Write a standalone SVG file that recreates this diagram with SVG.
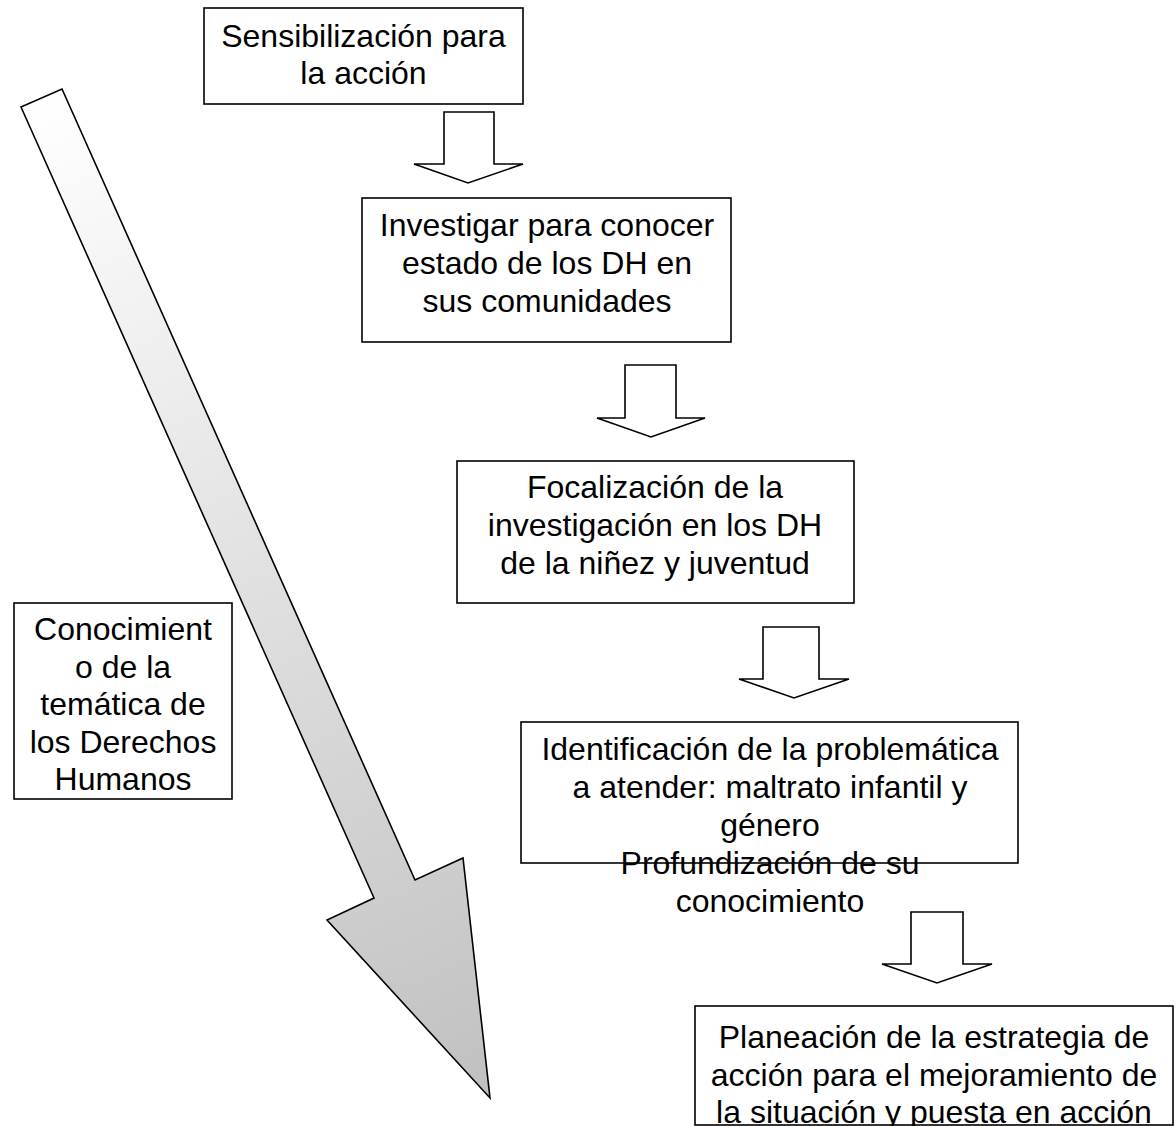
<svg xmlns="http://www.w3.org/2000/svg" width="1176" height="1126" viewBox="0 0 1176 1126">
<defs>
<style>
.box{fill:#ffffff;stroke:#000000;stroke-width:1.6}
.blk{fill:#ffffff;stroke:#000000;stroke-width:1.6;stroke-linejoin:miter}
.t{font-family:"Liberation Sans",Arial,sans-serif;font-size:32px;fill:#000000;text-anchor:middle}
</style>
<linearGradient id="grad" gradientUnits="userSpaceOnUse" x1="41" y1="98" x2="490" y2="1098">
<stop offset="0" stop-color="#ffffff"/>
<stop offset="1" stop-color="#c0c0c0"/>
</linearGradient>
</defs>
<rect x="0" y="0" width="1176" height="1126" fill="#ffffff"/>
<g id="bigArrow">
<path d="M21,107 L62,89 L415,880 L463,858 L490,1098 L327,920 L374,898 Z" fill="url(#grad)" stroke="#000000" stroke-width="1.6" stroke-linejoin="miter"/>
</g>
<g id="connectors">
<path class="blk" d="M444,112 H494 V164 H523 L468,183 L414,164 H444 Z"/>
<path class="blk" d="M625,365 H676 V418 H705 L651,437 L597,418 H625 Z"/>
<path class="blk" d="M763,627 H819 V679 H849 L794,698 L739,679 H763 Z"/>
<path class="blk" d="M911,912 H963 V964 H992 L937,983 L882,964 H911 Z"/>
</g>
<g id="n1">
<rect class="box" x="204" y="8" width="319" height="96"/>
<text class="t" x="363.5" y="47">Sensibilización para</text>
<text class="t" x="363.5" y="84">la acción</text>
</g>
<g id="n2">
<rect class="box" x="362" y="198" width="369" height="144"/>
<text class="t" x="547" y="236">Investigar para conocer</text>
<text class="t" x="547" y="274">estado de los DH en</text>
<text class="t" x="547" y="312">sus comunidades</text>
</g>
<g id="n3">
<rect class="box" x="457" y="461" width="397" height="142"/>
<text class="t" x="655" y="498">Focalización de la</text>
<text class="t" x="655" y="536">investigación en los DH</text>
<text class="t" x="655" y="574">de la niñez y juventud</text>
</g>
<g id="n4">
<rect class="box" x="521" y="722" width="497" height="141"/>
<text class="t" x="770" y="760">Identificación de la problemática</text>
<text class="t" x="770" y="798">a atender: maltrato infantil y</text>
<text class="t" x="770" y="836">género</text>
<text class="t" x="770" y="874">Profundización de su</text>
<text class="t" x="770" y="912">conocimiento</text>
</g>
<g id="n5">
<rect class="box" x="695" y="1006" width="478" height="119"/>
<text class="t" x="934" y="1048">Planeación de la estrategia de</text>
<text class="t" x="934" y="1086">acción para el mejoramiento de</text>
<text class="t" x="934" y="1123">la situación y puesta en acción</text>
</g>
<g id="n6">
<rect class="box" x="14" y="603" width="218" height="196"/>
<text class="t" x="123" y="640">Conocimient</text>
<text class="t" x="123" y="677.5">o de la</text>
<text class="t" x="123" y="715">temática de</text>
<text class="t" x="123" y="752.5">los Derechos</text>
<text class="t" x="123" y="790">Humanos</text>
</g>
</svg>
